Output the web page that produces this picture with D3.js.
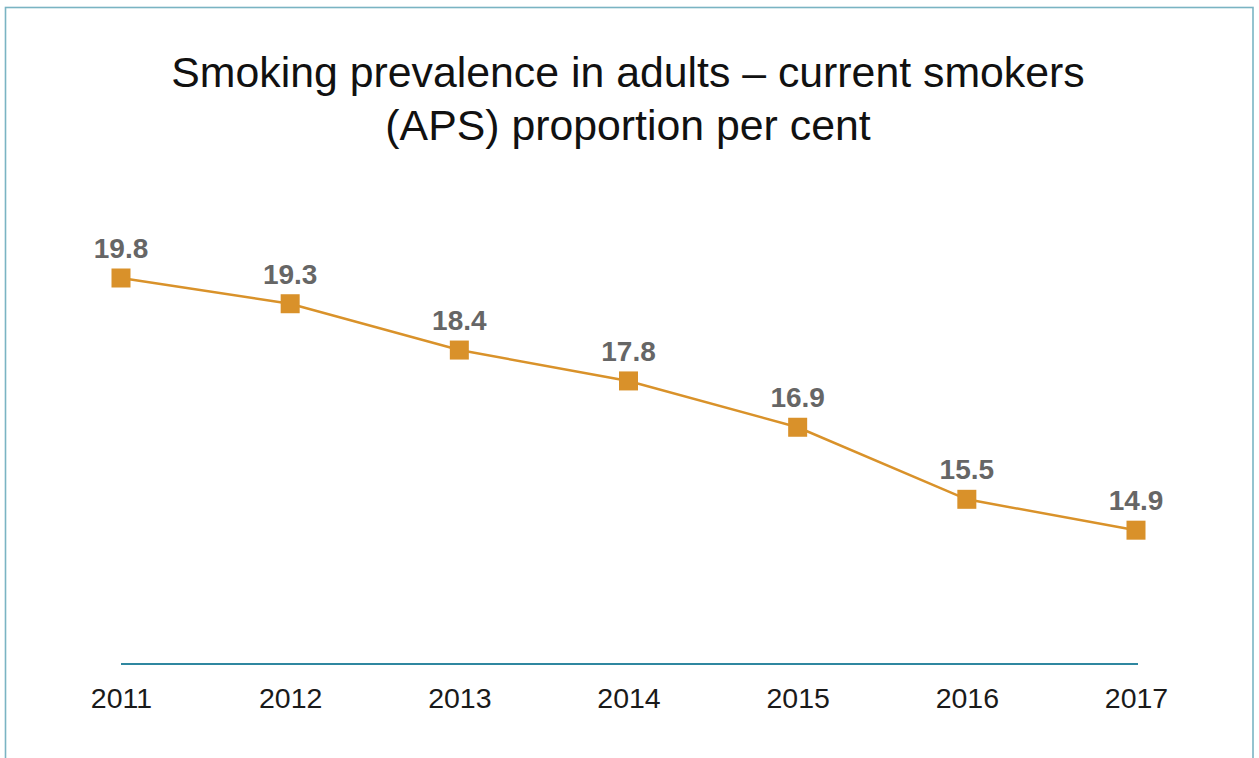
<!DOCTYPE html>
<html><head><meta charset="utf-8">
<script src="https://cdn.jsdelivr.net/npm/d3@7"></script>
<style>html,body{margin:0;padding:0;background:#fff;}svg{display:block;}</style>
</head><body>
<svg id="chart" width="1259" height="758"></svg>
<script>
const years = ["2011","2012","2013","2014","2015","2016","2017"];
const values = [19.8, 19.3, 18.4, 17.8, 16.9, 15.5, 14.9];
const titleLines = ["Smoking prevalence in adults \u2013 current smokers", "(APS) proportion per cent"];

const svg = d3.select("#chart");
svg.append("rect").attr("x",5.5).attr("y",7.5).attr("width",1247.5).attr("height",800)
  .attr("fill","#fff").attr("stroke","#7ab4c3").attr("stroke-width",1.6);

svg.append("g").selectAll("text").data(titleLines).join("text")
  .attr("x",628).attr("y",(d,i)=>86.5+i*53.5)
  .attr("text-anchor","middle")
  .attr("font-family","'Liberation Sans', Arial, sans-serif")
  .attr("font-size",42.8).attr("font-weight",300).attr("fill","#111")
  .text(d=>d);

const x = d3.scalePoint().domain(years).range([121,1136]);
const y = d3.scaleLinear().domain([12.3,19.8]).range([664,278]);

// category axis
const ax = svg.append("g").attr("transform",`translate(0,${y(12.3)})`)
  .call(d3.axisBottom(x).tickSize(0).tickPadding(24));
ax.select(".domain").attr("d",`M121,0H1138`).attr("stroke","#2f87a0").attr("stroke-width",2.2);
ax.selectAll("text").attr("font-family","'Liberation Sans', Arial, sans-serif")
  .attr("font-size",28.5).attr("fill","#1a1a1a").attr("dy","0.71em");

const line = d3.line().x((d,i)=>x(years[i])).y(d=>y(d));
svg.append("path").datum(values).attr("d",line)
  .attr("fill","none").attr("stroke","#d9922a").attr("stroke-width",2.5);

const ms = 19;
svg.append("g").selectAll("rect").data(values).join("rect")
  .attr("x",(d,i)=>x(years[i])-ms/2).attr("y",d=>y(d)-ms/2)
  .attr("width",ms).attr("height",ms).attr("fill","#d9912a");

svg.append("g").selectAll("text").data(values).join("text")
  .attr("x",(d,i)=>x(years[i])).attr("y",d=>y(d)-20)
  .attr("text-anchor","middle")
  .attr("font-family","'Liberation Sans', Arial, sans-serif")
  .attr("font-size",28).attr("font-weight","bold").attr("fill","#666")
  .text(d=>d.toFixed(1));
</script>
</body></html>
